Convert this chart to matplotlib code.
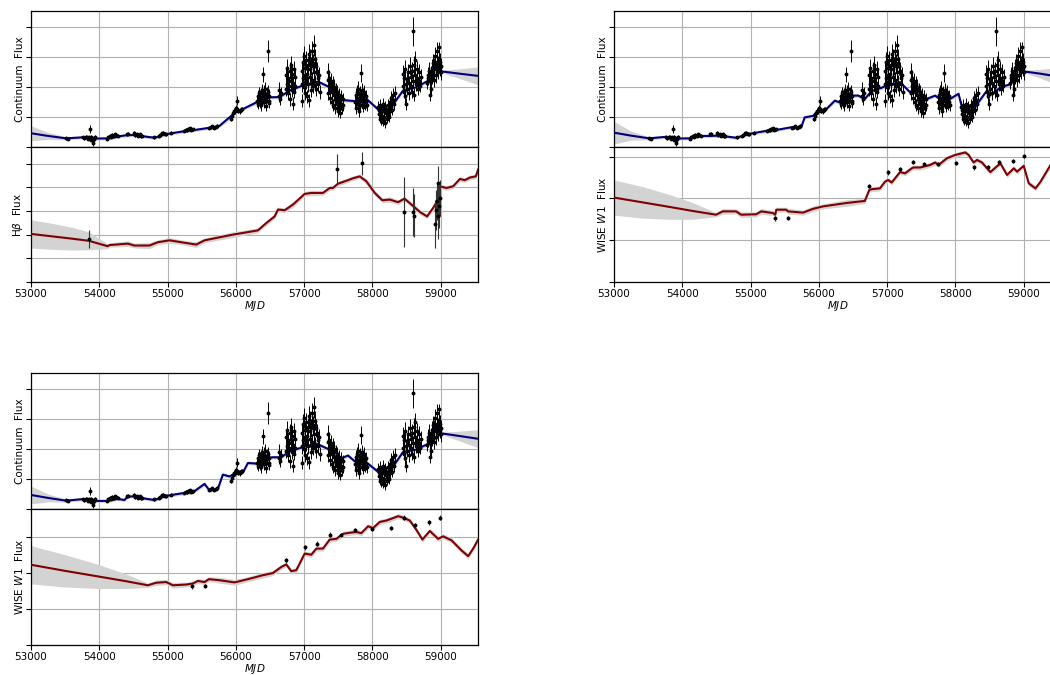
import matplotlib
matplotlib.use("Agg")
import matplotlib.pyplot as plt
import numpy as np

# ---- continuum light curve (same points in all three continuum panels) ----
seasons = [
    # (mjd, flux, err)
    ([53515, 53540], [0.30, 0.27], [0.05, 0.05]),
    ([53760, 53780, 53800, 53815, 53830, 53845, 53865, 53875, 53885, 53895, 53905, 53913, 53925, 53940],
     [0.33, 0.30, 0.35, 0.32, 0.28, 0.33, 0.60, 0.35, 0.25, 0.30, 0.22, 0.12, 0.28, 0.33],
     [0.05, 0.05, 0.06, 0.05, 0.06, 0.05, 0.14, 0.06, 0.06, 0.05, 0.06, 0.07, 0.05, 0.06]),
    ([54110, 54130, 54150, 54170, 54190, 54210, 54230, 54250, 54270],
     [0.28, 0.33, 0.36, 0.34, 0.40, 0.38, 0.42, 0.40, 0.37],
     [0.05, 0.05, 0.06, 0.05, 0.06, 0.05, 0.06, 0.05, 0.05]),
    ([54410, 54425], [0.42, 0.45], [0.05, 0.06]),
    ([54515, 54530, 54550, 54570, 54590, 54610, 54630],
     [0.47, 0.40, 0.43, 0.38, 0.42, 0.36, 0.37],
     [0.06, 0.05, 0.05, 0.05, 0.06, 0.05, 0.05]),
    ([54800], [0.32], [0.05]),
    ([54875, 54895, 54915, 54935, 54955, 54975],
     [0.38, 0.41, 0.46, 0.48, 0.44, 0.42],
     [0.05, 0.06, 0.05, 0.06, 0.05, 0.05]),
    ([55050], [0.47], [0.05]),
    ([55245, 55265, 55285, 55305, 55325, 55345, 55365],
     [0.55, 0.58, 0.56, 0.60, 0.62, 0.58, 0.60],
     [0.05, 0.06, 0.05, 0.06, 0.05, 0.06, 0.05]),
    ([55610, 55630, 55655, 55680, 55705, 55730],
     [0.64, 0.66, 0.70, 0.65, 0.68, 0.71],
     [0.05, 0.06, 0.05, 0.05, 0.06, 0.05]),
    ([55930, 55945, 55960, 55975, 55990, 56005, 56012, 56020, 56035, 56055, 56075, 56095],
     [0.95, 1.05, 1.15, 1.22, 1.20, 1.30, 1.55, 1.28, 1.22, 1.20, 1.25, 1.27],
     [0.08, 0.09, 0.08, 0.10, 0.09, 0.10, 0.15, 0.09, 0.08, 0.09, 0.08, 0.08]),
    ([56312, 56320, 56328, 56335, 56342, 56350, 56358, 56365, 56372, 56380, 56388, 56395, 56400,
      56408, 56415, 56422, 56430, 56438, 56445, 56452, 56460, 56463, 56470, 56478, 56485, 56492],
     [1.55, 1.70, 1.45, 1.62, 1.80, 1.52, 1.68, 1.40, 1.75, 1.90, 1.58, 1.65, 2.43,
      1.85, 1.50, 1.72, 1.95, 1.60, 1.38, 1.78, 1.66, 3.22, 1.85, 1.55, 1.70, 1.48],
     [0.20, 0.22, 0.18, 0.24, 0.22, 0.20, 0.22, 0.18, 0.24, 0.22, 0.20, 0.22, 0.26,
      0.22, 0.20, 0.24, 0.22, 0.20, 0.18, 0.22, 0.20, 0.36, 0.22, 0.20, 0.24, 0.18]),
    ([56625, 56635, 56645, 56655], [1.72, 1.92, 1.60, 1.80], [0.20, 0.26, 0.20, 0.22]),
    ([56732, 56740, 56748, 56755, 56762, 56770, 56778, 56785, 56792, 56800, 56808, 56815, 56822,
      56830, 56838, 56845, 56852, 56860, 56868],
     [1.95, 2.40, 2.10, 2.65, 1.80, 2.30, 2.05, 2.55, 1.60, 2.20, 2.75, 1.90, 2.45,
      1.45, 2.15, 2.60, 1.85, 2.35, 2.05],
     [0.24, 0.28, 0.22, 0.30, 0.22, 0.26, 0.24, 0.28, 0.22, 0.26, 0.30, 0.24, 0.28,
      0.22, 0.24, 0.28, 0.22, 0.26, 0.24]),
    ([56962, 56968, 56975, 56982, 56988, 56995, 57000, 57006, 57012, 57018, 57025, 57032, 57038,
      57045, 57052, 57058, 57065, 57072, 57078, 57085, 57092, 57098, 57105, 57112, 57118, 57125,
      57132, 57137, 57145, 57152, 57160, 57168, 57175, 57185, 57195, 57205, 57215, 57225],
     [2.10, 2.55, 1.55, 2.30, 2.85, 2.00, 3.04, 2.40, 1.80, 2.65, 2.20, 2.90, 1.70,
      2.45, 2.75, 2.10, 3.10, 1.56, 2.60, 2.35, 2.95, 1.90, 2.70, 3.20, 2.25, 2.80,
      2.05, 3.40, 2.50, 2.95, 2.15, 2.70, 1.95, 2.55, 2.30, 2.10, 2.40, 1.85],
     [0.26, 0.30, 0.22, 0.28, 0.32, 0.24, 0.34, 0.28, 0.22, 0.30, 0.26, 0.32, 0.22,
      0.28, 0.30, 0.26, 0.34, 0.22, 0.30, 0.28, 0.32, 0.24, 0.30, 0.34, 0.26, 0.32,
      0.24, 0.36, 0.28, 0.32, 0.26, 0.30, 0.24, 0.28, 0.28, 0.26, 0.28, 0.24]),
    ([57342, 57348, 57355, 57362, 57370, 57378, 57385, 57392, 57400, 57408, 57415, 57422, 57430,
      57438, 57445, 57452, 57460, 57468, 57475, 57482, 57490, 57498, 57505, 57512, 57520, 57528,
      57535, 57545, 57555, 57565, 57575],
     [2.25, 2.52, 1.80, 2.05, 2.30, 1.65, 1.95, 2.20, 1.50, 1.85, 2.10, 1.40, 1.75,
      2.00, 1.60, 1.30, 1.90, 1.70, 1.45, 1.85, 1.20, 1.60, 1.75, 1.35, 1.55, 1.15,
      1.70, 1.45, 1.30, 1.60, 1.40],
     [0.26, 0.30, 0.22, 0.26, 0.28, 0.22, 0.24, 0.26, 0.20, 0.24, 0.26, 0.20, 0.22,
      0.26, 0.22, 0.20, 0.24, 0.22, 0.20, 0.24, 0.18, 0.22, 0.24, 0.20, 0.22, 0.18,
      0.22, 0.20, 0.18, 0.22, 0.20]),
    ([57745, 57752, 57760, 57768, 57775, 57782, 57790, 57798, 57805, 57812, 57820, 57826, 57832,
      57840, 57848, 57855, 57862, 57870, 57878, 57885, 57892, 57900, 57908, 57915],
     [1.50, 1.75, 1.30, 1.60, 1.85, 1.45, 1.95, 1.20, 1.65, 1.80, 1.40, 2.49, 1.70,
      1.55, 1.90, 1.35, 1.75, 1.60, 1.85, 1.45, 1.65, 1.70, 1.50, 1.40],
     [0.20, 0.24, 0.18, 0.22, 0.24, 0.20, 0.26, 0.18, 0.22, 0.24, 0.20, 0.30, 0.22,
      0.20, 0.24, 0.18, 0.22, 0.20, 0.24, 0.20, 0.22, 0.22, 0.20, 0.18]),
    ([58085, 58092, 58100, 58108, 58115, 58122, 58130, 58138, 58145, 58152, 58160, 58168, 58175,
      58182, 58190, 58198, 58205, 58212, 58220, 58228, 58235, 58242, 58250, 58258, 58265, 58272,
      58280, 58290, 58300, 58312, 58325],
     [1.35, 1.10, 1.25, 0.95, 1.40, 1.15, 0.90, 1.30, 1.05, 1.45, 0.85, 1.20, 1.00,
      1.35, 0.80, 1.15, 1.25, 0.95, 1.40, 1.10, 1.30, 1.00, 1.50, 1.20, 1.35, 1.65,
      1.25, 1.55, 1.75, 1.45, 1.80],
     [0.18, 0.16, 0.18, 0.16, 0.20, 0.16, 0.15, 0.18, 0.16, 0.20, 0.15, 0.18, 0.16,
      0.18, 0.15, 0.16, 0.18, 0.16, 0.20, 0.16, 0.18, 0.16, 0.20, 0.18, 0.18, 0.22,
      0.18, 0.22, 0.24, 0.20, 0.24]),
    ([58440, 58448, 58455, 58462, 58470, 58478, 58485, 58492, 58500, 58510, 58520, 58530, 58540,
      58550, 58558, 58565, 58572, 58580, 58589, 58598, 58605, 58612, 58620, 58628, 58636, 58645,
      58655, 58665, 58675, 58685, 58695, 58705],
     [2.05, 2.45, 1.85, 2.30, 2.60, 1.70, 2.10, 1.45, 1.95, 2.25, 2.50, 1.80, 2.15,
      2.70, 2.35, 2.05, 1.85, 2.55, 3.87, 2.20, 2.75, 1.75, 2.40, 2.90, 2.10, 2.60,
      2.30, 1.95, 2.50, 2.20, 2.05, 2.35],
     [0.24, 0.28, 0.22, 0.26, 0.30, 0.22, 0.24, 0.20, 0.22, 0.26, 0.28, 0.22, 0.24,
      0.30, 0.26, 0.24, 0.22, 0.28, 0.48, 0.24, 0.30, 0.22, 0.26, 0.30, 0.24, 0.28,
      0.26, 0.22, 0.28, 0.24, 0.22, 0.26]),
    ([58800, 58810, 58820, 58830, 58838, 58845, 58852, 58860, 58868, 58876, 58884, 58892, 58900,
      58908, 58916, 58924, 58932, 58940, 58948, 58956, 58964, 58970, 58976, 58984, 58992, 59000,
      59008],
     [2.15, 2.40, 2.30, 2.55, 1.75, 2.20, 1.95, 2.45, 2.65, 2.35, 2.80, 2.50, 2.25,
      2.70, 3.05, 2.60, 2.40, 2.85, 3.20, 2.75, 2.55, 2.95, 3.36, 2.65, 2.85, 2.50,
      2.70],
     [0.22, 0.26, 0.24, 0.28, 0.22, 0.24, 0.22, 0.26, 0.28, 0.24, 0.30, 0.26, 0.24,
      0.28, 0.30, 0.28, 0.26, 0.30, 0.32, 0.28, 0.26, 0.30, 0.14, 0.28, 0.30, 0.26,
      0.28]),
]
cont_mjd = np.concatenate([s[0] for s in seasons])
cont_flux = np.concatenate([s[1] for s in seasons])
cont_err = np.concatenate([s[2] for s in seasons])

# ---- continuum model curves (one per panel pair) ----
cmod1_mjd = [53000, 53250, 53513, 53806, 53904, 54148, 54295, 54417, 54539, 54637, 54808, 54979,
             55272, 55370, 55663, 55761, 55932, 56005, 56103, 56298, 56445, 56640, 56787, 56982,
             57202, 57373, 57568, 57764, 57911, 58106, 58253, 58448, 58643, 58839, 59010, 59250, 59545]
cmod1_val = [0.46, 0.37, 0.29, 0.33, 0.28, 0.29, 0.36, 0.40, 0.40, 0.36, 0.31, 0.43,
             0.54, 0.56, 0.66, 0.71, 1.04, 1.19, 1.27, 1.49, 1.66, 1.67, 1.89, 2.06,
             2.19, 2.00, 1.57, 1.53, 1.61, 1.21, 1.27, 1.89, 2.00, 2.25, 2.53, 2.46, 2.38]
cmod1_err = [0.25, 0.12, 0.05, 0.05, 0.05, 0.05, 0.05, 0.06, 0.05, 0.05, 0.06, 0.05,
             0.05, 0.05, 0.05, 0.06, 0.07, 0.05, 0.05, 0.07, 0.05, 0.06, 0.05, 0.05,
             0.05, 0.06, 0.06, 0.06, 0.06, 0.07, 0.06, 0.06, 0.05, 0.05, 0.04, 0.15, 0.30]

cmod2_mjd = [53000, 53250, 53514, 53759, 53906, 54102, 54249, 54396, 54543, 54788, 55008, 55229,
             55351, 55620, 55743, 55792, 55914, 55988, 56110, 56233, 56306, 56404, 56502, 56576,
             56673, 56771, 56918, 56992, 57188, 57335, 57408, 57580, 57702, 57800, 57922, 58045,
             58094, 58290, 58461, 58510, 58682, 58780, 58829, 58999, 59250, 59545]
cmod2_val = [0.48, 0.38, 0.29, 0.34, 0.28, 0.29, 0.37, 0.37, 0.38, 0.31, 0.45, 0.54,
             0.56, 0.67, 0.67, 0.99, 1.04, 1.21, 1.27, 1.55, 1.49, 1.66, 1.72, 1.72,
             1.61, 1.87, 1.98, 2.06, 2.17, 1.83, 1.98, 1.61, 1.72, 1.55, 1.61, 1.78,
             1.33, 1.35, 1.89, 1.74, 2.02, 2.08, 2.17, 2.53, 2.45, 2.34]
cmod2_err = [0.38, 0.15, 0.05, 0.05, 0.05, 0.05, 0.05, 0.06, 0.05, 0.06, 0.05, 0.06,
             0.05, 0.05, 0.06, 0.06, 0.06, 0.05, 0.05, 0.07, 0.05, 0.05, 0.06, 0.06,
             0.05, 0.05, 0.06, 0.05, 0.05, 0.06, 0.05, 0.06, 0.05, 0.06, 0.06, 0.07,
             0.06, 0.06, 0.06, 0.05, 0.05, 0.06, 0.05, 0.04, 0.15, 0.32]

cmod3_mjd = [53000, 53250, 53513, 53757, 53904, 54124, 54270, 54368, 54417, 54539, 54637, 54808,
             54979, 55223, 55370, 55541, 55614, 55736, 55809, 55907, 55956, 56054, 56103, 56176,
             56298, 56445, 56542, 56665, 56787, 56982, 57178, 57349, 57495, 57641, 57739, 57911,
             58106, 58253, 58448, 58643, 58839, 59010, 59250, 59545]
cmod3_val = [0.47, 0.37, 0.28, 0.33, 0.27, 0.27, 0.34, 0.30, 0.42, 0.42, 0.36, 0.30,
             0.44, 0.53, 0.56, 0.84, 0.62, 0.67, 1.15, 1.09, 1.15, 1.26, 1.22, 1.54,
             1.52, 1.71, 1.73, 1.73, 1.93, 2.07, 2.19, 2.01, 1.65, 1.79, 1.60, 1.56,
             1.20, 1.26, 1.91, 1.99, 2.21, 2.53, 2.45, 2.35]
cmod3_err = [0.30, 0.13, 0.05, 0.05, 0.05, 0.05, 0.05, 0.05, 0.05, 0.05, 0.05, 0.06,
             0.05, 0.06, 0.05, 0.07, 0.05, 0.05, 0.06, 0.05, 0.05, 0.05, 0.05, 0.06,
             0.05, 0.05, 0.06, 0.05, 0.05, 0.05, 0.05, 0.06, 0.06, 0.06, 0.06, 0.06,
             0.07, 0.06, 0.06, 0.05, 0.05, 0.04, 0.15, 0.30]

# ---- H-beta light curve and model ----
hb_mjd = [53845, 57480, 57846, 58468, 58598, 58608, 58912, 58930, 58945, 58955, 58965, 58975, 58990]
hb_flux = [1.82, 4.77, 5.01, 2.97, 2.95, 2.80, 2.45, 3.05, 3.40, 2.80, 4.20, 3.20, 3.55]
hb_err = [0.37, 0.62, 0.50, 1.48, 1.00, 0.90, 1.00, 0.85, 0.80, 1.00, 0.70, 0.90, 0.75]

hbmod_mjd = [53000, 53300, 53600, 53845, 54124, 54148, 54417, 54515, 54735, 54857, 55028, 55199,
             55419, 55541, 55956, 56322, 56445, 56567, 56616, 56714, 56836, 57007, 57104, 57275,
             57373, 57421, 57495, 57641, 57715, 57813, 57911, 58033, 58145, 58253, 58375, 58468,
             58570, 58702, 58800, 58888, 58946, 58985, 59083, 59181, 59279, 59352, 59425, 59513,
             59547]
hbmod_val = [2.03, 1.93, 1.83, 1.74, 1.51, 1.56, 1.62, 1.54, 1.54, 1.68, 1.76, 1.68,
             1.58, 1.76, 2.00, 2.18, 2.49, 2.77, 3.06, 3.03, 3.27, 3.72, 3.76, 3.76,
             3.97, 3.97, 4.15, 4.30, 4.38, 4.46, 4.25, 3.76, 3.45, 3.48, 3.37, 3.52,
             3.27, 2.94, 2.77, 3.13, 3.41, 4.04, 3.97, 4.04, 4.35, 4.30, 4.41, 4.46,
             4.75]
hbmod_err = [0.60, 0.55, 0.48, 0.38, 0.10, 0.09, 0.12, 0.10, 0.13, 0.10, 0.12, 0.10,
             0.12, 0.10, 0.12, 0.10, 0.10, 0.10, 0.10, 0.10, 0.12, 0.10, 0.12, 0.10,
             0.10, 0.10, 0.10, 0.10, 0.10, 0.10, 0.12, 0.12, 0.10, 0.12, 0.10, 0.10,
             0.10, 0.10, 0.10, 0.10, 0.10, 0.10, 0.10, 0.10, 0.10, 0.10, 0.10, 0.10,
             0.10]

# ---- WISE W1, first fit (top right) ----
w1a_mjd = [55361, 55547, 56737, 57016, 57188, 57379, 57545, 57741, 58006, 58270, 58471, 58638, 58843, 58999]
w1a_flux = [1.52, 1.53, 2.30, 2.62, 2.70, 2.87, 2.82, 2.82, 2.84, 2.74, 2.76, 2.86, 2.89, 3.02]
w1a_err = [0.05, 0.05, 0.05, 0.05, 0.05, 0.05, 0.04, 0.05, 0.05, 0.05, 0.05, 0.05, 0.05, 0.05]

w1amod_mjd = [53000, 53400, 53800, 54150, 54494, 54592, 54788, 54861, 55082, 55155, 55327, 55361,
              55376, 55522, 55547, 55767, 55914, 56061, 56404, 56673, 56737, 56771, 56894, 56967,
              57016, 57065, 57188, 57261, 57359, 57384, 57482, 57628, 57702, 57751, 57874, 57996,
              58045, 58143, 58192, 58265, 58314, 58388, 58510, 58657, 58755, 58853, 58902, 58999,
              59073, 59171, 59245, 59392, 59545]
w1amod_val = [2.02, 1.91, 1.80, 1.70, 1.61, 1.69, 1.69, 1.61, 1.62, 1.69, 1.65, 1.61,
              1.73, 1.73, 1.69, 1.66, 1.75, 1.81, 1.89, 1.94, 2.20, 2.22, 2.24, 2.40,
              2.44, 2.38, 2.63, 2.60, 2.72, 2.74, 2.74, 2.80, 2.86, 2.80, 2.96, 3.04,
              3.06, 3.10, 3.04, 2.86, 2.92, 2.86, 2.63, 2.84, 2.56, 2.72, 2.64, 2.78,
              2.36, 2.24, 2.40, 2.80, 3.10]
w1amod_err = [0.42, 0.38, 0.30, 0.20, 0.05, 0.07, 0.06, 0.07, 0.06, 0.07, 0.06, 0.05,
              0.06, 0.06, 0.07, 0.06, 0.07, 0.06, 0.08, 0.06, 0.05, 0.06, 0.06, 0.06,
              0.05, 0.06, 0.05, 0.06, 0.06, 0.06, 0.06, 0.06, 0.06, 0.06, 0.06, 0.05,
              0.06, 0.05, 0.06, 0.05, 0.06, 0.06, 0.06, 0.05, 0.06, 0.06, 0.06, 0.05,
              0.06, 0.06, 0.06, 0.06, 0.06]

# ---- WISE W1, second fit (bottom left) ----
w1b_mjd = [55360, 55546, 56738, 57012, 57182, 57378, 57544, 57739, 57998, 58267, 58467, 58629, 58834, 58995]
w1b_flux = [1.63, 1.64, 2.35, 2.71, 2.82, 3.07, 3.07, 3.20, 3.22, 3.25, 3.54, 3.34, 3.41, 3.54]
w1b_err = [0.06, 0.06, 0.06, 0.06, 0.06, 0.06, 0.05, 0.06, 0.06, 0.06, 0.06, 0.06, 0.07, 0.07]

w1bmod_mjd = [53000, 53500, 54000, 54400, 54710, 54832, 54979, 55077, 55272, 55370, 55443, 55541,
              55604, 55761, 55981, 56176, 56396, 56542, 56665, 56738, 56811, 56884, 57007, 57104,
              57178, 57275, 57373, 57471, 57568, 57666, 57764, 57837, 57935, 58008, 58106, 58204,
              58277, 58375, 58448, 58546, 58643, 58731, 58839, 58961, 59034, 59157, 59303, 59401,
              59474, 59547]
w1bmod_val = [2.23, 2.06, 1.90, 1.77, 1.66, 1.73, 1.75, 1.66, 1.68, 1.71, 1.78, 1.75,
              1.83, 1.80, 1.74, 1.83, 1.94, 2.00, 2.17, 2.24, 2.05, 2.08, 2.54, 2.51,
              2.68, 2.68, 2.93, 2.95, 3.09, 3.12, 3.14, 3.11, 3.30, 3.25, 3.42, 3.46,
              3.51, 3.58, 3.54, 3.46, 3.20, 2.93, 3.17, 2.95, 3.02, 2.91, 2.63, 2.47,
              2.68, 2.93]
w1bmod_err = [0.53, 0.45, 0.33, 0.20, 0.06, 0.08, 0.07, 0.08, 0.07, 0.06, 0.07, 0.07,
              0.07, 0.08, 0.08, 0.07, 0.08, 0.07, 0.07, 0.06, 0.07, 0.07, 0.07, 0.07,
              0.07, 0.07, 0.07, 0.07, 0.07, 0.07, 0.07, 0.07, 0.07, 0.07, 0.07, 0.07,
              0.07, 0.07, 0.07, 0.07, 0.07, 0.07, 0.07, 0.07, 0.07, 0.07, 0.07, 0.07,
              0.07, 0.07]

XLIM = (53000, 59545)
XTICKS = [53000, 54000, 55000, 56000, 57000, 58000, 59000]
BLUE = "#00007f"
RED = "#7f0000"
BAND = "#d3d3d3"

plt.rcParams["font.size"] = 7.5


def style_ax(ax, ylim, nticks):
    ax.set_xlim(*XLIM)
    ax.set_ylim(*ylim)
    ax.set_xticks(XTICKS)
    ax.set_yticks(range(nticks))
    ax.set_yticklabels([])
    ax.grid(True, color="#b0b0b0", lw=0.8)
    ax.set_axisbelow(True)
    for sp in ax.spines.values():
        sp.set_linewidth(0.9)
    ax.tick_params(length=3.5, width=0.8, labelsize=7.5, pad=1.5)


def draw_model(ax, mjd, val, err, color):
    mjd = np.asarray(mjd, float)
    val = np.asarray(val, float)
    err = np.asarray(err, float)
    ax.fill_between(mjd, val - err, val + err, color=BAND, lw=0, zorder=2)
    ax.plot(mjd, val, color=color, lw=1.5, zorder=3)


def draw_cont(ax, mjd, val, err):
    draw_model(ax, mjd, val, err, BLUE)
    ax.errorbar(cont_mjd, cont_flux, yerr=cont_err, fmt="o", ms=1.8, color="black",
                mfc="#101030", ecolor="black", elinewidth=0.7, capsize=0, zorder=4)
    style_ax(ax, (0, 4.55), 5)
    ax.tick_params(labelbottom=False)
    ax.set_ylabel("Continuum  Flux", labelpad=-1)


def draw_line(ax, mjd, val, err, model, label, ylim, nticks):
    draw_model(ax, *model, RED)
    ax.errorbar(mjd, val, yerr=err, fmt="o", ms=1.8, color="black", ecolor="#333333",
                elinewidth=0.8, capsize=0, zorder=4)
    style_ax(ax, ylim, nticks)
    ax.set_ylabel(label, labelpad=-1)
    ax.set_xlabel("$MJD$", labelpad=0)


fig = plt.figure(figsize=(10.5, 6.75), dpi=100)
W, H = 1050, 675


def add(x0, y0, x1, y1):
    return fig.add_axes([x0 / W, 1 - y1 / H, (x1 - x0) / W, (y1 - y0) / H])


a1 = add(31, 11, 478, 147)
a2 = add(31, 147, 478, 282)
a3 = add(614, 11, 1061, 147)
a4 = add(614, 147, 1061, 282)
a5 = add(31, 373, 478, 509)
a6 = add(31, 509, 478, 645)

draw_cont(a1, cmod1_mjd, cmod1_val, cmod1_err)
draw_line(a2, hb_mjd, hb_flux, hb_err, (hbmod_mjd, hbmod_val, hbmod_err),
          r"H$\beta$  Flux", (0, 5.7), 6)
draw_cont(a3, cmod2_mjd, cmod2_val, cmod2_err)
draw_line(a4, w1a_mjd, w1a_flux, w1a_err, (w1amod_mjd, w1amod_val, w1amod_err),
          r"WISE $W1$  Flux", (0, 3.23), 4)
draw_cont(a5, cmod3_mjd, cmod3_val, cmod3_err)
draw_line(a6, w1b_mjd, w1b_flux, w1b_err, (w1bmod_mjd, w1bmod_val, w1bmod_err),
          r"WISE $W1$  Flux", (0, 3.78), 4)

fig.savefig("out.png", dpi=100)
